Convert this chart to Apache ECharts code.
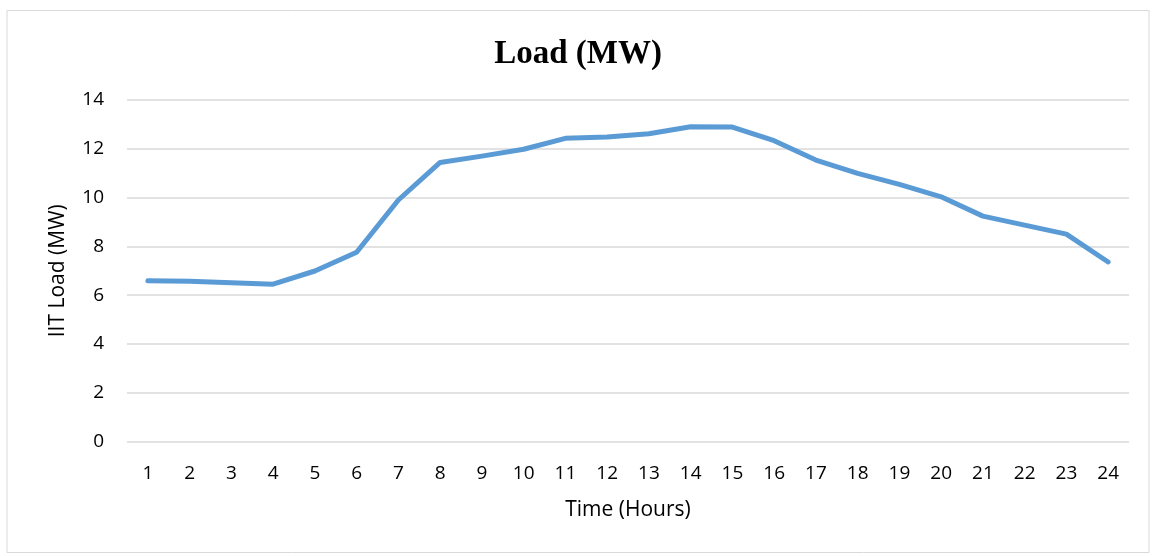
<!DOCTYPE html>
<html><head><meta charset="utf-8">
<script src="https://cdn.jsdelivr.net/npm/echarts@6/dist/echarts.min.js"></script>
<style>html,body{margin:0;padding:0;background:#fff}#c{width:1156px;height:556px}</style>
</head><body><div id="c"></div>
<script>
const hours = ['1','2','3','4','5','6','7','8','9','10','11','12','13','14','15','16','17','18','19','20','21','22','23','24'];
const load = [6.59,6.57,6.51,6.45,6.99,7.76,9.9,11.44,11.7,11.98,12.43,12.48,12.62,12.9,12.89,12.33,11.54,10.99,10.54,10.03,9.24,8.87,8.5,7.36];
const yTicks = [0,2,4,6,8,10,12,14];
const chart = echarts.init(document.getElementById('c'));
chart.setOption({
  animation:false,
  backgroundColor:'#fff',
  graphic:[{type:'rect',shape:{x:7,y:10.5,width:1142,height:542},style:{fill:'none',stroke:'#d9d9d9',lineWidth:1}}],
  title:{text:'Load (MW)',left:'center',top:33,padding:[5,5,5,14],textStyle:{fontFamily:'Liberation Serif',fontWeight:'bold',fontSize:33,color:'#000'}},
  grid:{left:127,right:27,top:100,bottom:114.5},
  xAxis:{type:'category',data:hours,boundaryGap:true,
    name:'Time (Hours)',nameLocation:'middle',nameGap:58,
    nameTextStyle:{fontFamily:'Open Sans',fontSize:21,color:'#000'},
    axisLine:{show:false},axisTick:{show:false},
    axisLabel:{fontFamily:'Open Sans',fontSize:19,color:'#000',margin:23}},
  yAxis:{type:'value',min:yTicks[0],max:yTicks[yTicks.length-1],interval:2,
    name:'IIT Load (MW)',nameLocation:'middle',nameGap:58,
    nameTextStyle:{fontFamily:'Open Sans',fontSize:21,color:'#000'},
    axisLine:{show:false},axisTick:{show:false},
    axisLabel:{fontFamily:'Open Sans',fontSize:19,color:'#000',margin:23},
    splitLine:{lineStyle:{color:'#d9d9d9',width:1.5}}},
  series:[{type:'line',data:load,symbol:'none',lineStyle:{color:'#5B9BD5',width:5,cap:'round',join:'round'}}]
});
</script></body></html>
